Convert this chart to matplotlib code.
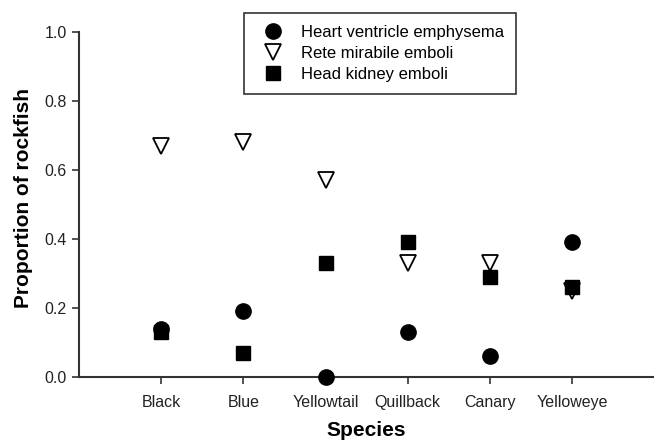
import matplotlib
matplotlib.use("Agg")
import matplotlib.pyplot as plt

species = ["Black", "Blue", "Yellowtail", "Quillback", "Canary", "Yelloweye"]
heart = [0.14, 0.19, 0.00, 0.13, 0.06, 0.39]
rete = [0.67, 0.68, 0.57, 0.33, 0.33, 0.25]
kidney = [0.13, 0.07, 0.33, 0.39, 0.29, 0.26]
yticks = [0.0, 0.2, 0.4, 0.6, 0.8, 1.0]

plt.rcParams['font.family'] = ['Liberation Sans', 'DejaVu Sans']

fig = plt.figure(figsize=(6.54, 4.42), dpi=100)
ax = fig.add_axes([0.121, 0.147, 0.879, 0.781])
x = list(range(1, len(species) + 1))

h1, = ax.plot(x, heart, linestyle='none', marker='o', markersize=11,
              color='black', zorder=4, clip_on=False, label='Heart ventricle emphysema')
h2, = ax.plot(x, rete, linestyle='none', marker='v', markersize=11,
              markerfacecolor='white', markeredgecolor='black', markeredgewidth=1.3,
              zorder=2, clip_on=False, label='Rete mirabile emboli')
h3, = ax.plot(x, kidney, linestyle='none', marker='s', markersize=10,
              color='black', zorder=3, clip_on=False, label='Head kidney emboli')

ax.set_xlim(0, 7)
ax.set_ylim(0, 1.0)
ax.set_xticks(x)
ax.set_xticklabels(species, fontsize=11.5)
ax.set_yticks(yticks)
ax.set_yticklabels([f"{v:.1f}" for v in yticks], fontsize=11.5)
ax.tick_params(direction='out', length=5, width=1.2, color='#333333', labelcolor='#222222')
ax.tick_params(axis='y', pad=4)
ax.tick_params(axis='x', pad=8)
for s in ['top', 'right']:
    ax.spines[s].set_visible(False)
for s in ['left', 'bottom']:
    ax.spines[s].set_linewidth(1.5)
    ax.spines[s].set_color('#333333')

ax.set_ylabel("Proportion of rockfish", fontsize=15, fontweight='bold')
ax.yaxis.set_label_coords(-0.08, 0.52)
ax.set_xlabel("Species", fontsize=15, fontweight='bold', labelpad=8)

leg = fig.legend(handles=[h1, h2, h3], loc='upper left',
                 bbox_to_anchor=(244 / 654, 1 - 13 / 442), fontsize=12,
                 frameon=True, fancybox=False, edgecolor='black',
                 borderpad=0.72, handletextpad=0.7, handlelength=2.0,
                 labelspacing=0.35, borderaxespad=0)
leg.get_frame().set_linewidth(1.2)

fig.savefig("out.png", dpi=100, facecolor='white')
